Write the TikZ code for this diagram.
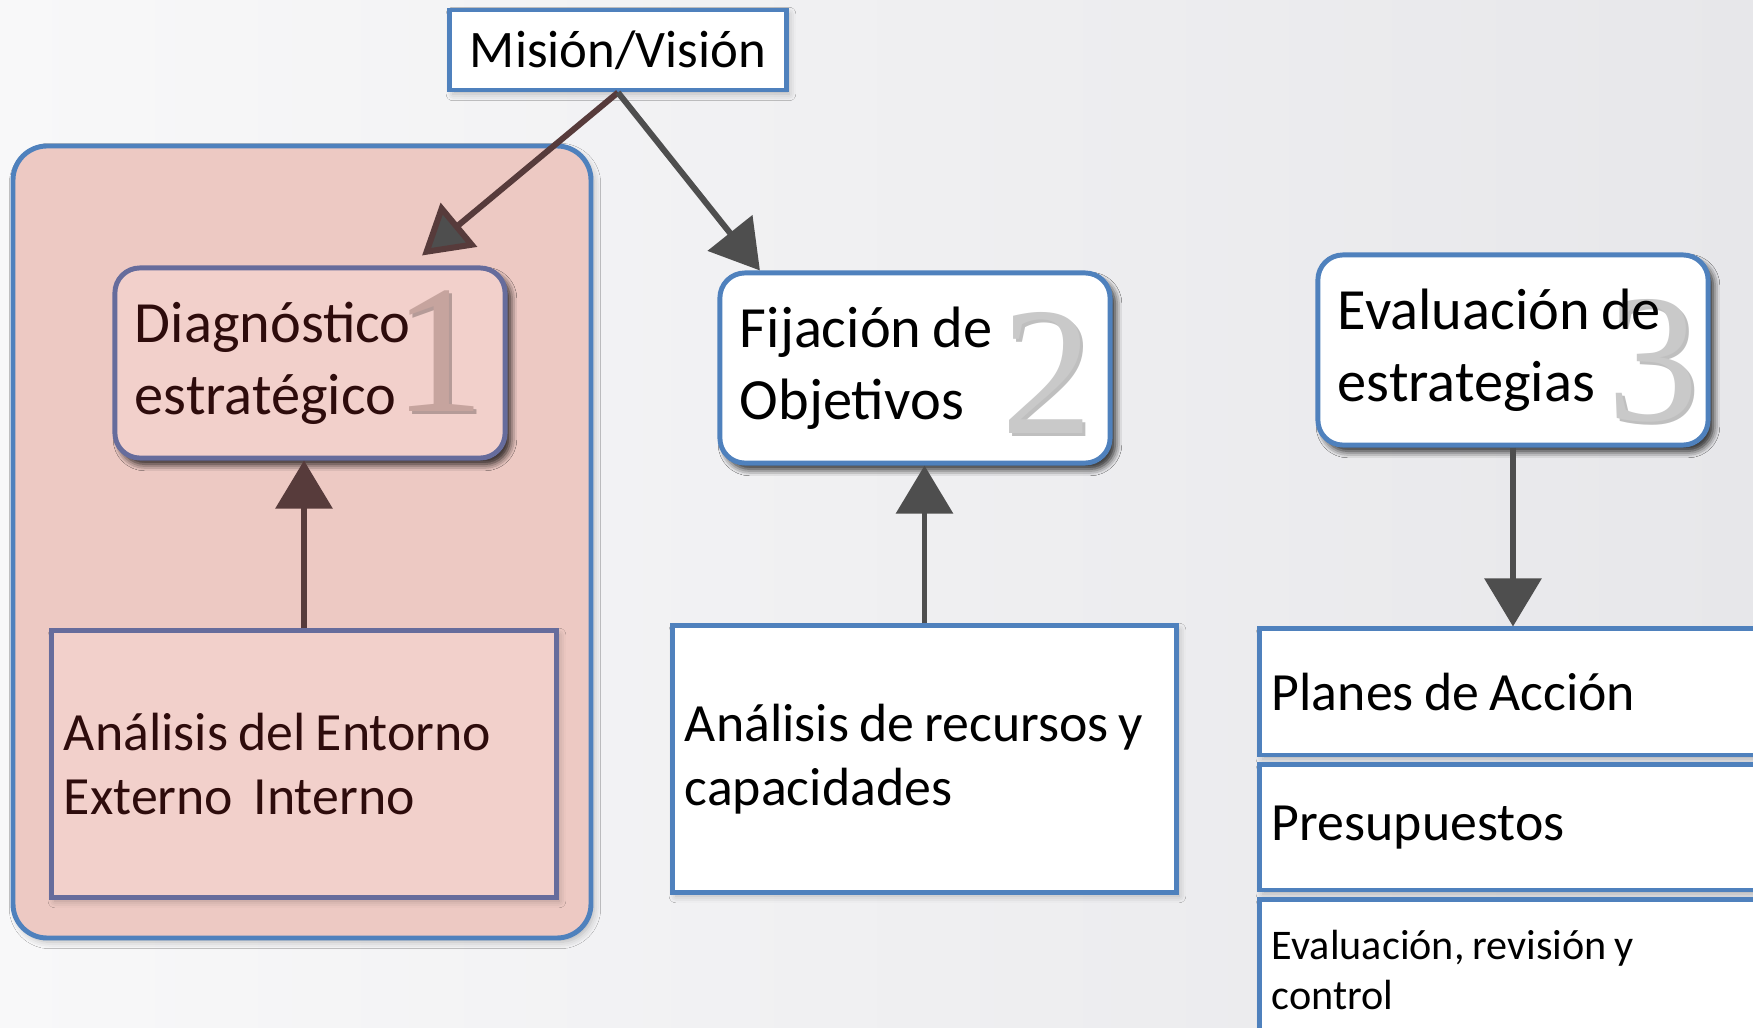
\documentclass[tikz,border=0pt]{standalone}
\usepackage{fontspec}
\setmainfont{Carlito}
\newfontfamily\digitfont{Liberation Serif}
\usetikzlibrary{arrows.meta,shadows,shadows.blur}

\definecolor{boxblue}{HTML}{4F81BD}
\definecolor{boxpurple}{HTML}{666C9C}
\definecolor{pinkback}{HTML}{EDC9C3}
\definecolor{pinkbox}{HTML}{F2D0CB}
\definecolor{darkbrown}{HTML}{2E0C0C}
\definecolor{bgleft}{HTML}{F8F8F9}
\definecolor{bgright}{HTML}{E7E7EA}
\definecolor{arrowgrey}{HTML}{4E4E4E}
\definecolor{arrowbrown}{HTML}{573B3B}
\definecolor{numgrey}{HTML}{C9C9C9}
\definecolor{numpink}{HTML}{C6A49E}

\newcommand{\tightspace}{\spaceskip=0.19em plus 0.05em minus 0.03em\xspaceskip=0.25em\relax}

\begin{document}
\begin{tikzpicture}[x=0.01cm,y=-0.01cm,
		textbox/.style={draw=boxblue,line width=1.4pt,fill=white,inner xsep=0.12cm,
			align=left,font=\fontsize{15.3}{18.2}\selectfont,
			execute at begin node=\tightspace,
			blur shadow={shadow xshift=0.03cm,shadow yshift=-0.04cm,shadow opacity=25}},
		stagebox/.style={textbox,rounded corners=0.25cm,inner xsep=0.2cm,
			minimum width=3.9cm,minimum height=1.9cm,text width=3.5cm,
			font=\fontsize{16.6}{20.5}\selectfont,
			blur shadow={shadow xshift=0.05cm,shadow yshift=-0.06cm,shadow opacity=55}},
		pinkstyle/.style={fill=pinkbox,draw=boxpurple,text=darkbrown},
		bignum/.style={font=\digitfont\fontsize{52}{52}\selectfont,anchor=base,
			text width={},inner sep=0pt,draw=none,fill=none},
		flow/.style={line width=1.7pt,draw=arrowgrey,-{Triangle[width=0.56cm,length=0.48cm,fill=arrowgrey]}}
	]
		\useasboundingbox (0,0) rectangle (1753,1028);
		\clip (0,0) rectangle (1753,1028);
		\shade[left color=bgleft,right color=bgright] (0,0) rectangle (1753,1028);
		
		% bloque 1
		\draw[draw=boxblue,line width=1.4pt,fill=pinkback,rounded corners=0.34cm,
			blur shadow={shadow xshift=0.03cm,shadow yshift=-0.04cm,shadow opacity=25}]
			(13,146) rectangle (591,938);
		
		\node[textbox,minimum width=3.36cm,minimum height=0.8cm,font=\fontsize{15}{18}\selectfont] (mision) at (618,50) {Misión/Visión};
		
		\node[stagebox,pinkstyle,path picture={
				\node[bignum,text=black,opacity=.25] at ([xshift=-0.63cm,yshift=0.44cm]path picture bounding box.south east) {1};
				\node[bignum,text=numpink] at ([xshift=-0.66cm,yshift=0.47cm]path picture bounding box.south east) {1};
			}] (diag) at (310,363) {Diagnóstico\\estratégico};
		\node[stagebox,path picture={
				\node[bignum,text=black,opacity=.25] at ([xshift=-0.60cm,yshift=0.27cm]path picture bounding box.south east) {2};
				\node[bignum,text=numgrey] at ([xshift=-0.63cm,yshift=0.30cm]path picture bounding box.south east) {2};
			}] (fij) at (915,368) {Fijación de\\Objetivos};
		\node[stagebox,path picture={
				\node[bignum,text=black,opacity=.25] at ([xshift=-0.52cm,yshift=0.22cm]path picture bounding box.south east) {3};
				\node[bignum,text=numgrey] at ([xshift=-0.55cm,yshift=0.25cm]path picture bounding box.south east) {3};
			}] (eval) at (1513,350) {Evaluación de\\estrategias};
		
		\node[textbox,pinkstyle,minimum width=5.04cm,minimum height=2.66cm,text width=4.8cm] (entorno) at (304,764) {Análisis del Entorno\\Externo~~Interno};
		\node[textbox,minimum width=5.03cm,minimum height=2.66cm,text width=4.79cm] (recursos) at (924.5,759) {Análisis de recursos y\\capacidades};
		
		% bloque 3
		\node[textbox,minimum width=5.4cm,minimum height=1.26cm,text width=5.16cm] (planes) at (1530,692) {Planes de Acción};
		\node[textbox,minimum width=5.4cm,minimum height=1.25cm,text width=5.16cm] (presup) at (1530,827.5) {Presupuestos};
		\node[textbox,minimum width=5.4cm,minimum height=1.4cm,text width=5.16cm,font=\fontsize{12}{14}\selectfont] (control) at (1530,970) {Evaluación, revisión y\\control};
		
		% flechas
		\draw[flow,draw=arrowbrown] (mision.south) -- ([xshift=1.12cm,yshift=0.1cm]diag.north);
		\draw[flow] (mision.south) -- ([xshift=-1.55cm]fij.north);
		\draw[flow,draw=arrowbrown,-{Triangle[width=0.56cm,length=0.48cm,fill=arrowbrown]}] (entorno.north) -- (entorno.north |- diag.south);
		\draw[flow] (recursos.north) -- (recursos.north |- fij.south);
		\draw[flow] (eval.south) -- (eval.south |- planes.north);
\end{tikzpicture}
\end{document}
